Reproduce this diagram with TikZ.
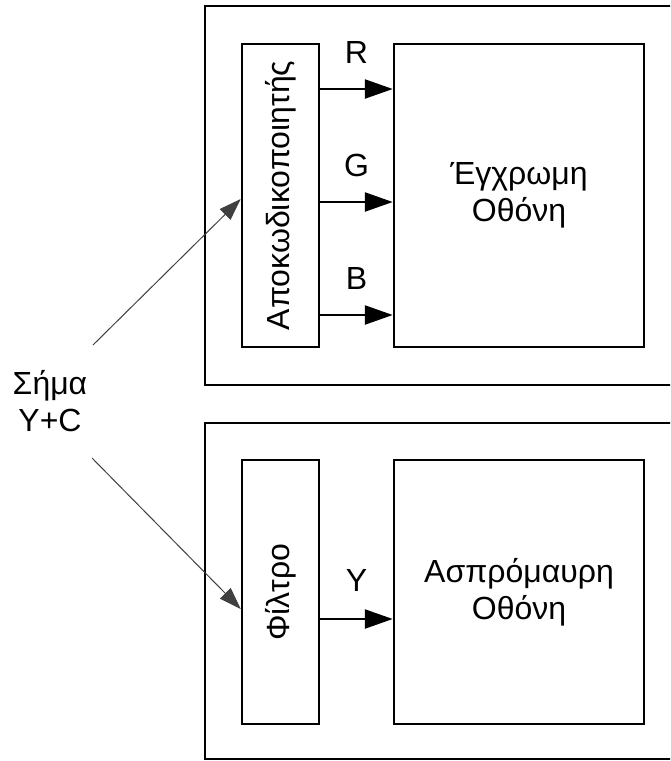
\documentclass[tikz,border=0pt]{standalone}
\usepackage{fontspec}
\setmainfont{Liberation Sans}
\usetikzlibrary{arrows.meta}
\tikzset{
  frame/.style={draw, line width=2.5pt},
  block/.style={draw, line width=2.5pt, inner sep=0pt},
  wire/.style={line width=2.5pt, -{Triangle[length=28pt,width=19pt]}},
  feed/.style={line width=1pt, black!75, -{Triangle[length=22pt,width=15pt]}},
  lbl/.style={font=\fontsize{32}{37}\selectfont, align=center, inner sep=0pt}
}
\begin{document}
\begin{tikzpicture}[x=1pt,y=-1pt]
 \useasboundingbox (0,0) rectangle (670,761);
 \clip (0,0) rectangle (670,761);
 % colour set
 \draw[frame] (205,6) rectangle (700,385);
 \node[block, minimum width=77pt, minimum height=303pt] (dec) at (280.5,195.5) {};
 \node[lbl, rotate=90] at (dec) {Αποκωδικοποιητής};
 \node[block, minimum width=250pt, minimum height=303pt] (col) at (519,195.5) {};
 \node[lbl] at (col) {Έγχρωμη\\Οθόνη};
 \foreach \y/\c in {89/R,202/G,315/B}{
   \coordinate (w\c) at (0,\y);
   \draw[wire] (dec.east |- w\c) -- (col.west |- w\c);
   \node[lbl] (l\c) at (356.5,{\y-37}) {\c};
 }
 % mono set
 \draw[frame] (205,423) rectangle (700,759);
 \node[block, minimum width=77pt, minimum height=264pt] (fil) at (280.5,592) {};
 \node[lbl, rotate=90] at (fil) {Φίλτρο};
 \node[block, minimum width=250pt, minimum height=264pt] (mono) at (519,592) {};
 \node[lbl] at (mono) {Ασπρόμαυρη\\Οθόνη};
 \coordinate (wY) at (0,619);
 \draw[wire] (fil.east |- wY) -- (mono.west |- wY);
 \node[lbl] (lY) at (356.5,580) {Y};
 % input signal
 \node[lbl] (sig) at (50,401) {Σήμα\\Y+C};
 \coordinate (s1) at (93,345);
 \coordinate (s2) at (92,458);
 \draw[feed] (s1) -- ([yshift=-3.5pt]dec.west);
 \draw[feed] (s2) -- ([yshift=-17pt]fil.west);
\end{tikzpicture}
\end{document}
